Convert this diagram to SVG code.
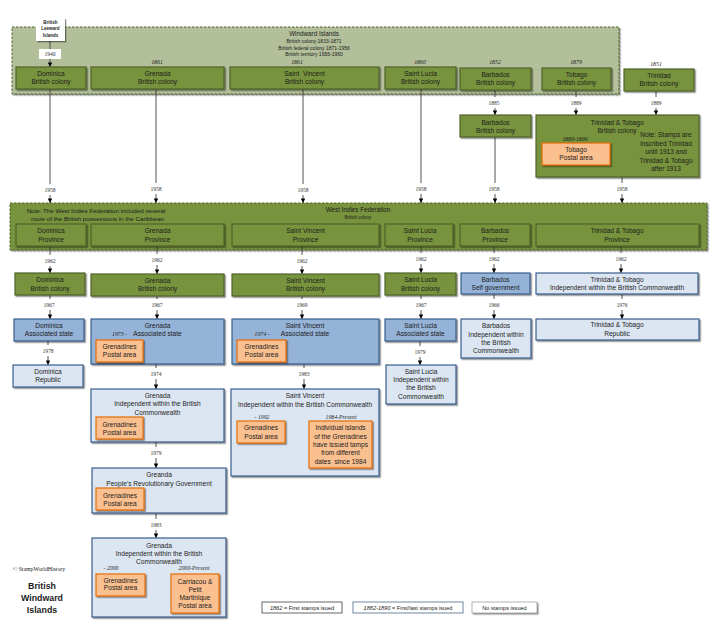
<svg xmlns="http://www.w3.org/2000/svg" width="718" height="626" viewBox="0 0 718 626">
<style>
.g{fill:#77933c;stroke:#4f6228;stroke-width:1.2}
.b{fill:#95b3d7;stroke:#385d8a;stroke-width:1.2}
.lb{fill:#dce6f2;stroke:#385d8a;stroke-width:1.2}
.o{fill:#fac090;stroke:#e46c0a;stroke-width:1.2}
.cont{stroke:#4f6228;stroke-width:1;stroke-dasharray:2.5 1.5}
.t{font-family:"Liberation Sans",Arial,sans-serif;font-size:6.6px;fill:#1c1c1c;text-anchor:middle}
.s{font-family:"Liberation Sans",Arial,sans-serif;font-size:5px;fill:#1c1c1c;text-anchor:middle}
.y{font-family:"Liberation Serif","Times New Roman",serif;font-size:5.6px;fill:#333;text-anchor:middle}
.yi{font-family:"Liberation Serif","Times New Roman",serif;font-size:5.8px;font-style:italic;fill:#1c1c1c;text-anchor:middle}
.c{stroke:#404040;stroke-width:0.9;fill:none}
.pre{white-space:pre}
</style>
<defs>
<filter id="sh" x="-10%" y="-10%" width="130%" height="140%">
<feDropShadow dx="1.3" dy="1.3" stdDeviation="0.7" flood-color="#000" flood-opacity="0.45"/>
</filter>
<marker id="ah" viewBox="0 0 10 10" refX="10" refY="5" markerWidth="5" markerHeight="4.5" orient="auto" markerUnits="userSpaceOnUse">
<path d="M0,0 L10,5 L0,10 z" fill="#000"/>
</marker>
</defs>
<rect width="718" height="626" fill="#fff"/>

<!-- containers -->
<g id="windward">
<rect x="12" y="27" width="607" height="67" fill="#b2bf9a" class="cont" filter="url(#sh)"/>
<text class="t" x="314" y="35.5" style="font-size:6.3px">Windward Islands</text>
<text class="s" x="314" y="42.8">British colony 1833-1871</text>
<text class="s" x="314" y="49.5">British federal colony 1871-1956</text>
<text class="s" x="314" y="56">British territory 1956-1960</text>
</g>
<g id="wif">
<rect x="10" y="203" width="697" height="47" fill="#77933c" class="cont" filter="url(#sh)"/>
<text class="t" x="358" y="211.5" style="font-size:6.3px">West Indies Federation</text>
<text class="s" x="358" y="218.5" style="font-size:4.5px">British colony</text>
<text class="t" x="96" y="213" style="font-size:6.2px">Note: The West Indies Federation included several</text>
<text class="t" x="97.5" y="221" style="font-size:6.2px">more of the British possessions in the Caribbean</text>
</g>

<!-- connectors -->
<g id="connectors">
<rect x="39" y="49" width="22" height="10" fill="#fff"/>
<path class="c" d="M50,41 V49 M50,59 V67" marker-end="url(#ah)"/>
<text class="y" x="50" y="56">1940</text>

<path class="c" d="M50,89 V184 M50,195 V203" marker-end="url(#ah)"/><text class="y" x="50" y="192">1958</text>
<path class="c" d="M156,89 V183 M156,194 V203" marker-end="url(#ah)"/><text class="y" x="156" y="191">1958</text>
<path class="c" d="M303,89 V184 M303,195 V203" marker-end="url(#ah)"/><text class="y" x="303" y="192">1958</text>
<path class="c" d="M421,89 V183 M421,194 V203" marker-end="url(#ah)"/><text class="y" x="421" y="191">1958</text>
<path class="c" d="M495,90 V97 M495,108 V115" marker-end="url(#ah)"/><text class="y" x="494" y="105">1885</text>
<path class="c" d="M576,91 V97 M576,108 V115" marker-end="url(#ah)"/><text class="y" x="576" y="105">1889</text>
<path class="c" d="M656,91 V97 M656,108 V115" marker-end="url(#ah)"/><text class="y" x="656" y="105">1889</text>
<path class="c" d="M495,137 V183 M495,194 V203" marker-end="url(#ah)"/><text class="y" x="494" y="191">1958</text>
<path class="c" d="M622,177 V183 M622,194 V203" marker-end="url(#ah)"/><text class="y" x="622" y="191">1958</text>

<path class="c" d="M50,246 V255 M50,266 V273" marker-end="url(#ah)"/><text class="y" x="50" y="263">1962</text>
<path class="c" d="M157,246 V254 M157,265 V274" marker-end="url(#ah)"/><text class="y" x="157" y="262">1962</text>
<path class="c" d="M302,246 V255 M302,266 V274" marker-end="url(#ah)"/><text class="y" x="302" y="263">1962</text>
<path class="c" d="M421,246 V253 M421,264 V273" marker-end="url(#ah)"/><text class="y" x="421" y="261">1962</text>
<path class="c" d="M494,246 V253 M494,264 V273" marker-end="url(#ah)"/><text class="y" x="494" y="261">1962</text>
<path class="c" d="M621,246 V253 M621,264 V273" marker-end="url(#ah)"/><text class="y" x="621" y="261">1962</text>

<path class="c" d="M50,295 V299 M50,310 V319" marker-end="url(#ah)"/><text class="y" x="49" y="307">1967</text>
<path class="c" d="M157,296 V299 M157,310 V319" marker-end="url(#ah)"/><text class="y" x="157" y="307">1967</text>
<path class="c" d="M302,296 V299 M302,310 V319" marker-end="url(#ah)"/><text class="y" x="302" y="307">1969</text>
<path class="c" d="M421,295 V299 M421,310 V319" marker-end="url(#ah)"/><text class="y" x="421" y="307">1967</text>
<path class="c" d="M494,294 V299 M494,310 V319" marker-end="url(#ah)"/><text class="y" x="494" y="307">1966</text>
<path class="c" d="M622,294 V299 M622,310 V319" marker-end="url(#ah)"/><text class="y" x="622" y="307">1976</text>

<path class="c" d="M48,341 V345 M48,356 V365" marker-end="url(#ah)"/><text class="y" x="48" y="353">1978</text>
<path class="c" d="M156,364 V368 M156,379 V389" marker-end="url(#ah)"/><text class="y" x="156" y="376">1974</text>
<path class="c" d="M304,364 V368 M304,379 V389" marker-end="url(#ah)"/><text class="y" x="304" y="376">1983</text>
<path class="c" d="M420,341 V346 M420,357 V365" marker-end="url(#ah)"/><text class="y" x="420" y="354">1979</text>
<path class="c" d="M156,442 V447 M156,458 V468" marker-end="url(#ah)"/><text class="y" x="156" y="455">1979</text>
<path class="c" d="M156,513 V519 M156,530 V538" marker-end="url(#ah)"/><text class="y" x="156" y="527">1983</text>
<path class="c" d="M145,585 H171" marker-end="url(#ah)"/>
</g>

<!-- row 1 -->
<g id="leeward">
<rect x="36" y="18" width="29" height="23" fill="#fff" filter="url(#sh)"/>
<text class="t" x="50.5" y="23.7" style="font-size:4.5px;font-weight:bold">British</text>
<text class="t" x="50.5" y="30.4" style="font-size:4.5px;font-weight:bold">Leeward</text>
<text class="t" x="50.5" y="37" style="font-size:4.5px;font-weight:bold">Islands</text>
</g>
<g id="dominica1"><rect class="g" x="16" y="67" width="70" height="22" filter="url(#sh)"/>
<text class="t" x="51" y="76.3">Dominica</text><text class="t" x="51" y="84.3">British colony</text></g>
<g id="grenada1"><text class="yi" x="157" y="63.5">1861</text><rect class="g" x="91" y="67" width="133" height="22" filter="url(#sh)"/>
<text class="t" x="157.5" y="76.3">Grenada</text><text class="t" x="157.5" y="84.3">British colony</text></g>
<g id="stvincent1"><text class="yi" x="297" y="63.5">1861</text><rect class="g" x="230" y="67" width="149" height="22" filter="url(#sh)"/>
<text class="t pre" x="304.5" y="76.3">Saint  Vincent</text><text class="t" x="304.5" y="84.3">British colony</text></g>
<g id="stlucia1"><text class="yi" x="420" y="64">1860</text><rect class="g" x="385" y="67" width="71" height="22" filter="url(#sh)"/>
<text class="t" x="420.5" y="76.3">Saint Lucia</text><text class="t" x="420.5" y="84.3">British colony</text></g>
<g id="barbados1"><text class="yi" x="495" y="64">1852</text><rect class="g" x="460" y="68" width="71" height="22" filter="url(#sh)"/>
<text class="t" x="495.5" y="77">Barbados</text><text class="t" x="495.5" y="85">British colony</text></g>
<g id="tobago1"><text class="yi" x="576" y="64">1879</text><rect class="g" x="542" y="68" width="69" height="22" filter="url(#sh)"/>
<text class="t" x="576.5" y="77">Tobago</text><text class="t" x="576.5" y="85">British colony</text></g>
<g id="trinidad1"><text class="yi" x="656" y="65.5">1851</text><rect class="g" x="624" y="69" width="70" height="22" filter="url(#sh)"/>
<text class="t" x="659" y="78">Trinidad</text><text class="t" x="659" y="86">British colony</text></g>

<!-- row 2 -->
<g id="barbados2"><rect class="g" x="460" y="115" width="71" height="22" filter="url(#sh)"/>
<text class="t" x="495.5" y="124.5">Barbados</text><text class="t" x="495.5" y="132.5">British colony</text></g>
<g id="tt2"><rect class="g" x="536" y="115" width="163" height="62" filter="url(#sh)"/>
<text class="t" x="617" y="124.5">Trinidad &amp; Tobago</text><text class="t" x="617" y="132.5">British colony</text>
<text class="t" x="666" y="137.3">Note: Stamps are</text>
<text class="t" x="666" y="145.8">inscribed Trinidad</text>
<text class="t" x="666" y="154.3">until 1913 and</text>
<text class="t" x="666" y="162.8">Trinidad &amp; Tobago</text>
<text class="t" x="666" y="171.3">after 1913</text>
<text class="yi" x="575" y="140.5">1889-1896</text>
</g>
<g id="tobago2"><rect class="o" x="542" y="143" width="68" height="22" filter="url(#sh)"/>
<text class="t" x="576" y="152">Tobago</text><text class="t" x="576" y="160.2">Postal area</text></g>

<!-- row 3 provinces -->
<g id="dominica3"><rect class="g" x="16" y="224" width="70" height="22" filter="url(#sh)"/>
<text class="t" x="51" y="233.3">Dominica</text><text class="t" x="51" y="241.5">Province</text></g>
<g id="grenada3"><rect class="g" x="91" y="224" width="133" height="22" filter="url(#sh)"/>
<text class="t" x="157.5" y="233.3">Grenada</text><text class="t" x="157.5" y="241.5">Province</text></g>
<g id="stvincent3"><rect class="g" x="232" y="224" width="147" height="22" filter="url(#sh)"/>
<text class="t" x="305.5" y="233.3">Saint Vincent</text><text class="t" x="305.5" y="241.5">Province</text></g>
<g id="stlucia3"><rect class="g" x="385" y="224" width="68" height="22" filter="url(#sh)"/>
<text class="t" x="420" y="233.3">Saint Lucia</text><text class="t" x="420" y="241.5">Province</text></g>
<g id="barbados3"><rect class="g" x="460" y="224" width="70" height="22" filter="url(#sh)"/>
<text class="t" x="495" y="233.3">Barbados</text><text class="t" x="495" y="241.5">Province</text></g>
<g id="tt3"><rect class="g" x="536" y="224" width="163" height="22" filter="url(#sh)"/>
<text class="t" x="617" y="233.3">Trinidad &amp; Tobago</text><text class="t" x="617" y="241.5">Province</text></g>

<!-- row 4 -->
<g id="dominica4"><rect class="g" x="15" y="273" width="70" height="22" filter="url(#sh)"/>
<text class="t" x="50" y="282.3">Dominica</text><text class="t" x="50" y="290.6">British colony</text></g>
<g id="grenada4"><rect class="g" x="91" y="274" width="133" height="22" filter="url(#sh)"/>
<text class="t" x="157.5" y="283">Grenada</text><text class="t" x="157.5" y="291.3">British colony</text></g>
<g id="stvincent4"><rect class="g" x="232" y="274" width="147" height="22" filter="url(#sh)"/>
<text class="t" x="305.5" y="283">Saint Vincent</text><text class="t" x="305.5" y="291.3">British colony</text></g>
<g id="stlucia4"><rect class="g" x="385" y="273" width="71" height="22" filter="url(#sh)"/>
<text class="t" x="420.5" y="282.3">Saint Lucia</text><text class="t" x="420.5" y="290.6">British colony</text></g>
<g id="barbados4"><rect class="b" x="461" y="273" width="69" height="21" filter="url(#sh)"/>
<text class="t" x="495.5" y="282">Barbados</text><text class="t" x="495.5" y="290.3">Self government</text></g>
<g id="tt4"><rect class="lb" x="536" y="273" width="162" height="21" filter="url(#sh)"/>
<text class="t" x="617" y="281.5">Trinidad &amp; Tobago</text><text class="t" x="617" y="289.8">Independent  within the British Commonwealth</text></g>

<!-- row 5 -->
<g id="dominica5"><rect class="b" x="14" y="319" width="70" height="22" filter="url(#sh)"/>
<text class="t" x="49" y="328">Dominica</text><text class="t" x="49" y="336.3">Associated state</text></g>
<g id="grenada5"><rect class="b" x="91" y="319" width="133" height="45" filter="url(#sh)"/>
<text class="t" x="157.5" y="328">Grenada</text><text class="t" x="157.5" y="336.3">Associated state</text>
<text class="yi" x="119.5" y="336.3">1973 -</text></g>
<g id="grenadines5"><rect class="o" x="96" y="340" width="47" height="22" filter="url(#sh)"/>
<text class="t" x="119.5" y="349">Grenadines</text><text class="t" x="119.5" y="357.3">Postal area</text></g>
<g id="stvincent5"><rect class="b" x="232" y="319" width="147" height="45" filter="url(#sh)"/>
<text class="t" x="305" y="328">Saint Vincent</text><text class="t" x="305" y="336.3">Associated state</text>
<text class="yi" x="262" y="336.3">1974 -</text></g>
<g id="svgrenadines5"><rect class="o" x="237" y="340" width="49" height="22" filter="url(#sh)"/>
<text class="t" x="261.5" y="349">Grenadines</text><text class="t" x="261.5" y="357.3">Postal area</text></g>
<g id="stlucia5"><rect class="b" x="385" y="319" width="71" height="22" filter="url(#sh)"/>
<text class="t" x="420.5" y="328">Saint Lucia</text><text class="t" x="420.5" y="336.3">Associated state</text></g>
<g id="barbados5"><rect class="lb" x="461" y="319" width="70" height="39" filter="url(#sh)"/>
<text class="t" x="496" y="328.2">Barbados</text><text class="t" x="496" y="336.5">Independent  within</text>
<text class="t" x="496" y="344.9">the British</text><text class="t" x="496" y="353.2">Commonwealth</text></g>
<g id="tt5"><rect class="lb" x="536" y="319" width="163" height="21" filter="url(#sh)"/>
<text class="t" x="617" y="327.3">Trinidad &amp; Tobago</text><text class="t" x="617" y="335.6">Republic</text></g>

<!-- row 6 -->
<g id="dominica6"><rect class="lb" x="13" y="365" width="70" height="22" filter="url(#sh)"/>
<text class="t" x="48" y="374.3">Dominica</text><text class="t" x="48" y="382.3">Republic</text></g>
<g id="grenada6"><rect class="lb" x="91" y="389" width="133" height="53" filter="url(#sh)"/>
<text class="t" x="157.5" y="398.3">Grenada</text><text class="t" x="157.5" y="406.3">Independent  within the British</text>
<text class="t" x="157.5" y="414.6">Commonwealth</text></g>
<g id="grenadines6"><rect class="o" x="96" y="417" width="47" height="22" filter="url(#sh)"/>
<text class="t" x="119.5" y="427">Grenadines</text><text class="t" x="119.5" y="435">Postal area</text></g>
<g id="stvincent6"><rect class="lb" x="231" y="389" width="148" height="87" filter="url(#sh)"/>
<text class="t" x="305" y="398.3">Saint Vincent</text><text class="t" x="305" y="406.6">Independent  within the British Commonwealth</text>
<text class="yi" x="262" y="418.7">- 1992</text><text class="yi" x="341" y="419">1984-Present</text></g>
<g id="svgrenadines6"><rect class="o" x="237" y="421" width="48" height="22" filter="url(#sh)"/>
<text class="t" x="261" y="430.3">Grenadines</text><text class="t" x="261" y="438.6">Postal area</text></g>
<g id="svislands6"><rect class="o" x="309" y="421" width="63" height="47" filter="url(#sh)"/>
<text class="t" x="340.5" y="430.3">Individual islands</text><text class="t" x="340.5" y="438.6">of the Grenadines</text>
<text class="t" x="340.5" y="447">have issued tamps</text><text class="t" x="340.5" y="455.3">from different</text>
<text class="t pre" x="340.5" y="463.6">dates  since 1984</text></g>
<g id="stlucia6"><rect class="lb" x="386" y="365" width="70" height="39" filter="url(#sh)"/>
<text class="t" x="421" y="373.6">Saint Lucia</text><text class="t" x="421" y="382">Independent within</text>
<text class="t" x="421" y="390.3">the British</text><text class="t" x="421" y="398.6">Commonwealth</text></g>

<!-- Grenada later -->
<g id="grenada7"><rect class="lb" x="92" y="468" width="134" height="45" filter="url(#sh)"/>
<text class="t" x="159" y="477.3">Greanda</text><text class="t" x="159" y="485.6">People’s Revolutionary Government</text></g>
<g id="grenadines7"><rect class="o" x="96" y="488" width="48" height="22" filter="url(#sh)"/>
<text class="t" x="120" y="497.6">Grenadines</text><text class="t" x="120" y="505.6">Postal area</text></g>
<g id="grenada8"><rect class="lb" x="92" y="538" width="134" height="79" filter="url(#sh)"/>
<text class="t" x="159" y="548.3">Grenada</text><text class="t" x="159" y="556.3">Independent  within the British</text>
<text class="t" x="159" y="564.3">Commonwealth</text>
<text class="yi" x="111" y="570">- 2000</text><text class="yi" x="194" y="570">2000-Present</text></g>
<g id="grenadines8"><rect class="o" x="96" y="574" width="49" height="22" filter="url(#sh)"/>
<text class="t" x="120.5" y="582.6">Grenadines</text><text class="t" x="120.5" y="590.3">Postal area</text></g>
<g id="carriacou8"><rect class="o" x="171" y="574" width="48" height="39" filter="url(#sh)"/>
<text class="t" x="195" y="584">Carriacou &amp;</text><text class="t" x="195" y="592.3">Petit</text>
<text class="t" x="195" y="600.3">Martinique</text><text class="t" x="195" y="608.3">Postal area</text></g>

<!-- footer -->
<g id="footer">
<text class="y" x="39" y="571" style="font-size:5.8px;fill:#1c1c1c">© StampWorldHistory</text>
<text class="t" x="42" y="589.2" style="font-size:8.8px;font-weight:bold">British</text>
<text class="t" x="42" y="600.8" style="font-size:8.8px;font-weight:bold">Windward</text>
<text class="t" x="42" y="613.2" style="font-size:8.8px;font-weight:bold">Islands</text>
</g>
<g id="legend">
<rect x="262" y="602" width="80" height="11" fill="#fff" stroke="#404040" stroke-width="0.8"/>
<text class="t" x="302" y="609.8" style="font-size:5.6px"><tspan font-style="italic">1862</tspan> = First stamps isued</text>
<rect x="353" y="602" width="110" height="11" fill="#fff" stroke="#4f6a8a" stroke-width="0.8"/>
<text class="t" x="408" y="609.8" style="font-size:5.6px"><tspan font-style="italic">1882-1890</tspan> = First/last stamps isued</text>
<rect x="472" y="602" width="65" height="11" fill="#fff" stroke="#7f7f7f" stroke-width="0.6" filter="url(#sh)"/>
<text class="t" x="504.5" y="609.8" style="font-size:5.6px">No stamps issued</text>
</g>
</svg>
